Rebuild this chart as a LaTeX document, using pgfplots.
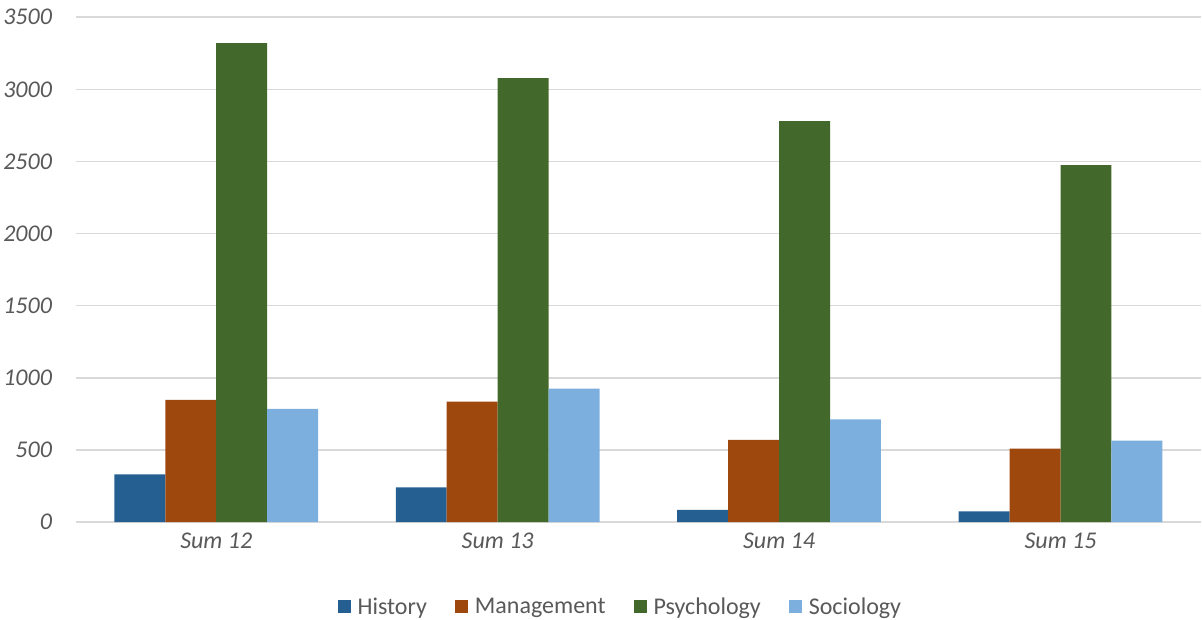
\documentclass[border=0pt]{standalone}
\usepackage{pgfplots}
\pgfplotsset{compat=1.18}
\usepackage{fontspec}
\setmainfont{Carlito}
\definecolor{histc}{HTML}{255E91}
\definecolor{mgmtc}{HTML}{9E480E}
\definecolor{psyc}{HTML}{43682B}
\definecolor{socc}{HTML}{7CAFDD}
\definecolor{gridc}{HTML}{D9D9D9}
\definecolor{labelc}{HTML}{595959}
\begin{document}
\begin{tikzpicture}
\begin{axis}[
    scale only axis,
    width=1126pt, height=505pt,
    xmin=-0.5, xmax=3.5, ymin=0, ymax=3500,
    ytick={0,500,...,3500},
    xtick={0,1,2,3},
    xticklabels={Sum 12, Sum 13, Sum 14, Sum 15},
    axis line style={draw=none},
    major tick length=0pt,
    ymajorgrids,
    grid style={gridc, line width=1.5pt},
    tick label style={font=\fontsize{24}{28}\selectfont\itshape, text=labelc},
    /pgf/number format/assume math mode=true,
    /pgf/number format/1000 sep={},
    yticklabel style={xshift=-20pt},
    xticklabel style={yshift=-7pt},
    ybar, bar width=0.181,
    legend style={at={(0.484,-0.168)}, anchor=center, draw=none,
        legend columns=-1, font=\fontsize{24}{28}\selectfont, text=labelc,
        /tikz/every even column/.append style={column sep=26pt}},
    legend image code/.code={\fill[#1] (0pt,-6.5pt) rectangle (13.5pt,6.5pt);
        \path (18pt,0pt);},
]
\addplot[fill=histc, draw=none, bar shift=-0.2715]
    coordinates {(0,330) (1,240) (2,85) (3,75)};
\addplot[fill=mgmtc, draw=none, bar shift=-0.0905]
    coordinates {(0,848) (1,835) (2,570) (3,510)};
\addplot[fill=psyc, draw=none, bar shift=0.0905]
    coordinates {(0,3320) (1,3078) (2,2780) (3,2475)};
\addplot[fill=socc, draw=none, bar shift=0.2715]
    coordinates {(0,785) (1,925) (2,712) (3,565)};
\legend{History, Management, Psychology, Sociology}
\end{axis}
\path (current bounding box.north) ++(0,6pt);
\end{tikzpicture}
\end{document}
